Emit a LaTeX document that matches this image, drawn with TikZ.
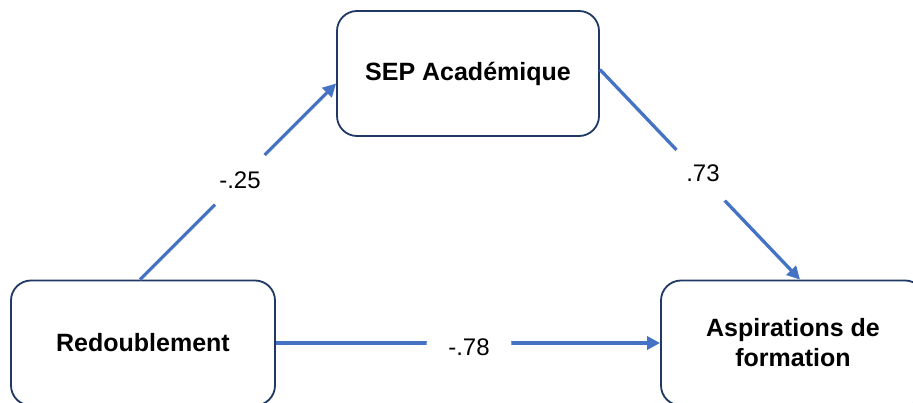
\documentclass[tikz,border=0pt]{standalone}
\usepackage{fontspec}
\setmainfont{Liberation Sans}
\usetikzlibrary{arrows.meta}
\definecolor{linkblue}{HTML}{4472C4}
\definecolor{boxline}{HTML}{1F3864}

\begin{document}
\begin{tikzpicture}[x=1pt,y=1pt,
  varbox/.style={draw=boxline, line width=1.8pt, rounded corners=20pt, fill=white,
    minimum width=264pt, minimum height=125pt, inner sep=0pt, align=center,
    font=\fontsize{25}{30}\selectfont\bfseries},
  link/.style={draw=linkblue, line width=3.3pt, -{Triangle[length=13pt,width=13pt]}},
  coef/.style={circle, fill=white, inner sep=0pt, minimum size=70pt,
    font=\fontsize{24}{28}\selectfont}]
  \useasboundingbox (0,0) rectangle (913,402);
  \clip (0,0) rectangle (913,402);

  % variables
  \node[varbox, minimum width=262pt] (sep) at (468,328.5) {SEP Académique};
  \node[varbox] (red) at (143,59) {Redoublement};
  \node[varbox] (asp) at (793,59) {Aspirations de\\formation};

  % paths
  \draw[link] ([xshift=-3pt]red.north) -- ([yshift=-10pt]sep.west);
  \draw[link] ([yshift=4pt]sep.east) -- ([xshift=7pt]asp.north);
  \draw[link] (red.east) -- (asp.west);

  % coefficients
  \node[coef] (c1) at (240,222) {-.25};
  \node[coef] (c2) at (703,229) {.73};
  \node[coef, minimum size=85pt] (c3) at (469,55) {-.78};
\end{tikzpicture}
\end{document}
